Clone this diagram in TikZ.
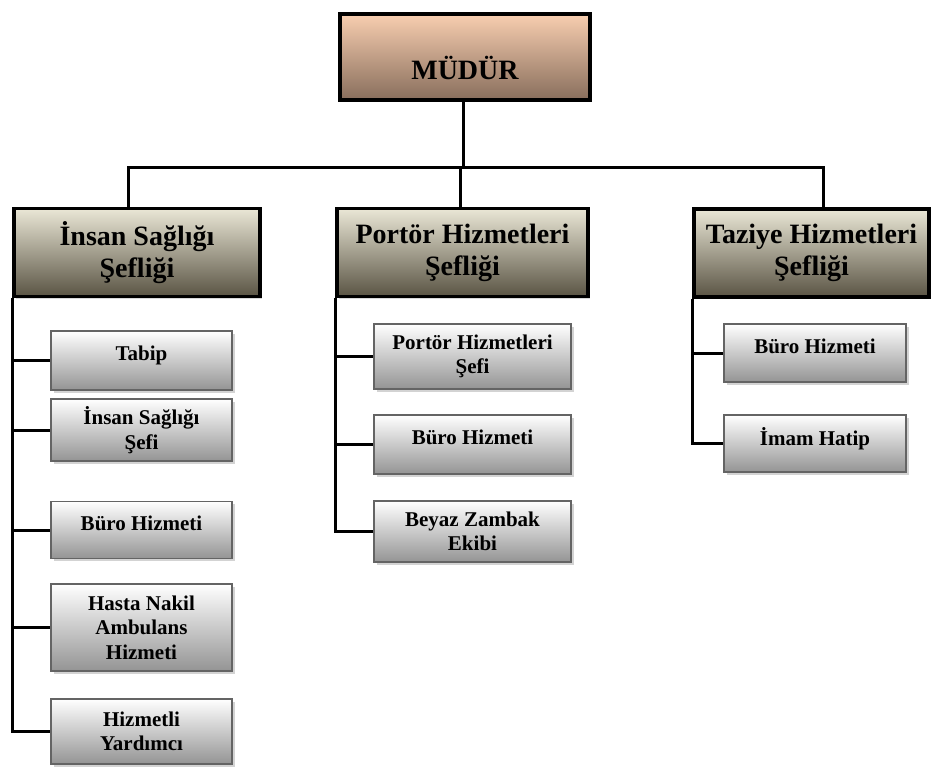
\documentclass[tikz,border=0pt]{standalone}
\usepackage{fontspec}
\setmainfont{Liberation Serif}
\usetikzlibrary{shadows}

\definecolor{mudurtop}{RGB}{248,206,176}
\definecolor{mudurbot}{RGB}{136,110,92}
\definecolor{seftop}{RGB}{234,231,214}
\definecolor{sefbot}{RGB}{90,84,68}
\definecolor{birimbot}{RGB}{148,148,148}
\definecolor{birimline}{RGB}{100,100,100}

\begin{document}
\begin{tikzpicture}[x=1pt,y=-1pt,
    mudurbox/.style={draw=black, line width=4pt, top color=mudurtop, bottom color=mudurbot,
        minimum width=250pt, minimum height=86pt, inner sep=0pt, align=center,
        font=\fontsize{28}{32}\selectfont\bfseries,
        drop shadow={shadow xshift=2pt, shadow yshift=-2pt, opacity=0.3}},
    sefbox/.style={draw=black, line width=3.5pt, top color=seftop, bottom color=sefbot,
        inner sep=0pt, align=center, minimum height=88pt,
        font=\fontsize{28}{32}\selectfont\bfseries,
        drop shadow={shadow xshift=2pt, shadow yshift=-2pt, opacity=0.3}},
    birimbox/.style={draw=birimline, line width=1.5pt, top color=white, bottom color=birimbot,
        inner sep=0pt, align=center,
        font=\fontsize{21}{24.5}\selectfont\bfseries,
        drop shadow={shadow xshift=2.5pt, shadow yshift=-2.5pt, opacity=0.35}},
    hat/.style={line width=3pt}
]
\useasboundingbox (0,0) rectangle (933,767);

% Mudur
\node[mudurbox] (mudur) at (465,57) {\mbox{}\\[14pt]MÜDÜR};

% Sefler
\node[sefbox, minimum width=246pt] (insan) at (137,252.5) {İnsan Sağlığı\\Şefliği};
\node[sefbox, minimum width=251pt] (portor) at (462.5,252.5) {Portör Hizmetleri\\Şefliği};
\node[sefbox, minimum width=235pt] (taziye) at (811.5,253) {Taziye Hizmetleri\\Şefliği};

% Insan Sagligi birimleri
\node[birimbox, minimum width=181pt, minimum height=59pt] (tabip) at (141.5,360.5) {Tabip\\[-10pt]\mbox{}};
\node[birimbox, minimum width=181pt, minimum height=62pt] (insef) at (141.5,430) {İnsan Sağlığı\\Şefi};
\node[birimbox, minimum width=181pt, minimum height=57pt] (buro1) at (141.5,530) {Büro Hizmeti\\[-10pt]\mbox{}};
\node[birimbox, minimum width=181pt, minimum height=87pt] (hasta) at (141.5,627.5) {Hasta Nakil\\Ambulans\\Hizmeti};
\node[birimbox, minimum width=181pt, minimum height=65pt] (yard) at (141.5,731.5) {Hizmetli\\Yardımcı};

% Portor birimleri
\node[birimbox, minimum width=197pt, minimum height=65pt] (psef) at (472.5,356.5) {Portör Hizmetleri\\Şefi};
\node[birimbox, minimum width=197pt, minimum height=59pt] (buro2) at (472.5,444.5) {Büro Hizmeti\\[-10pt]\mbox{}};
\node[birimbox, minimum width=197pt, minimum height=61pt] (beyaz) at (472.5,531.5) {Beyaz Zambak\\Ekibi};

% Taziye birimleri
\node[birimbox, minimum width=182pt, minimum height=58pt] (buro3) at (815,353) {Büro Hizmeti\\[-10pt]\mbox{}};
\node[birimbox, minimum width=182pt, minimum height=57pt] (imam) at (815,443.5) {İmam Hatip\\[-10pt]\mbox{}};

% Ust baglantilar
\coordinate (bar) at (463,168);
\draw[hat] ([xshift=-2pt]mudur.south) -- ([xshift=-2pt]mudur.south |- bar);
\draw[hat] ([xshift=-9pt]insan.north) |- (bar) -| ([xshift=11.5pt]taziye.north);
\draw[hat] ([xshift=-2.5pt]portor.north) -- ([xshift=-2.5pt]portor.north |- bar);

% Alt baglantilar
\foreach \b in {tabip,insef,buro1,hasta,yard}
    \draw[hat] (insan.south west) |- (\b.west);
\foreach \b in {psef,buro2,beyaz}
    \draw[hat] (portor.south west) |- (\b.west);
\foreach \b in {buro3,imam}
    \draw[hat] (taziye.south west) |- (\b.west);

\end{tikzpicture}
\end{document}
